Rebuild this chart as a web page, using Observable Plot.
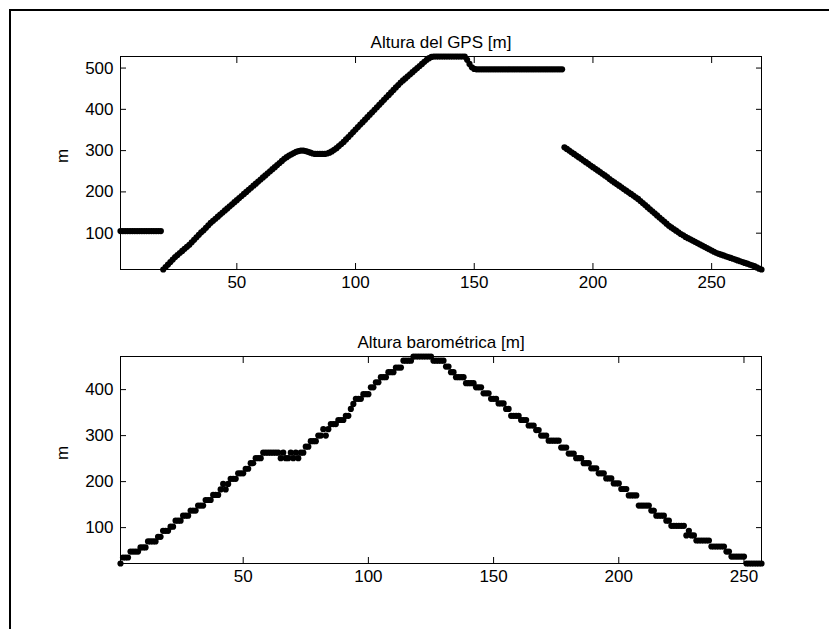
<!DOCTYPE html>
<html><head><meta charset="utf-8">
<script src="https://cdn.jsdelivr.net/npm/d3@7"></script>
<script src="https://cdn.jsdelivr.net/npm/@observablehq/plot@0.6"></script>
<style>
html,body{margin:0;padding:0;background:#fff;}
#wrap{position:relative;width:829px;height:629px;overflow:hidden;background:#fff;}
#border{position:absolute;left:9px;top:9px;width:900px;height:700px;border-left:2px solid #000;border-top:2px solid #000;}
.p{position:absolute;left:0;}
</style></head><body>
<div id="wrap"><div id="border"></div><div id="top" class="p" style="top:0"></div><div id="bot" class="p" style="top:300px"></div></div>
<script>
const gpsAltitude = [
105,105,105,105,105,105,105,105,105,105,
105,105,105,105,105,105,105,105,12,18,
24,30,36,42,47,52,57,62,67,72,
78,84,90,96,102,107,113,119,125,130,
135,140,145,150,155,160,165,170,175,180,
185,190,195,200,205,210,215,220,225,230,
235,240,245,250,255,260,265,270,275,280,
284,288,291,294,297,299,300,300,299,297,
295,293,292,292,292,292,292,293,295,298,
302,306,311,316,321,327,333,339,345,351,
357,363,369,375,381,387,393,399,405,411,
417,423,429,435,441,447,453,459,465,470,
475,480,485,490,495,500,505,510,515,520,
524,527,528,528,528,528,528,528,528,528,
528,528,528,528,528,528,520,510,502,498,
497,497,497,497,497,497,497,497,497,497,
497,497,497,497,497,497,497,497,497,497,
497,497,497,497,497,497,497,497,497,497,
497,497,497,497,497,497,497,
308,304,300,296,292,288,284,280,276,272,
268,264,260,256,252,248,244,240,236,231,
227,223,219,215,211,207,203,199,195,191,
187,183,178,173,168,163,158,153,148,143,
138,133,128,123,118,114,110,106,102,98,
95,91,88,85,82,79,76,73,70,67,
64,61,58,55,52,50,48,46,44,42,
40,38,36,34,32,30,28,26,24,22,
20,17,14,12
];
const baroAltitude = [
22,35,35,35,48,48,48,48,57,57,
57,70,70,70,70,80,80,93,93,93,
102,102,115,115,115,126,126,126,137,137,
137,148,148,148,160,160,160,171,171,171,
183,195,183,195,206,206,206,218,218,218,
228,228,240,240,251,251,251,263,263,263,
263,263,263,263,251,263,251,251,263,251,
263,251,263,263,276,276,288,288,288,300,
300,314,300,314,325,325,325,334,334,334,
343,343,358,369,380,380,380,390,390,390,
405,405,416,416,427,427,427,438,438,438,
448,448,448,463,463,463,463,472,472,472,
472,472,472,472,472,463,463,463,463,463,
450,450,438,438,427,427,427,427,414,414,
414,414,405,405,405,392,392,392,380,380,
380,370,370,370,358,358,343,343,343,343,
334,334,334,322,322,322,312,312,300,300,
300,289,289,289,289,289,274,274,274,261,
261,261,251,251,251,240,240,240,229,229,
229,218,218,218,207,207,207,196,196,196,
184,184,184,170,170,170,170,148,148,148,
148,148,137,137,126,126,126,126,115,115,
104,104,104,104,104,104,83,93,83,83,
72,72,72,72,72,72,59,59,59,59,
59,59,48,48,37,37,37,37,37,37,
22,22,22,22,22,22,22
];
const xTicks = [50, 100, 150, 200, 250];
const gpsYTicks = [100, 200, 300, 400, 500];
const baroYTicks = [100, 200, 300, 400];
const gpsTitle = "Altura del GPS [m]";
const baroTitle = "Altura barométrica [m]";
const yLabel = "m";

function panel(values, yTicks, title, marginBottom) {
  const data = values.map((v, i) => ({i: i + 1, v}));
  return Plot.plot({
    width: 829, height: 300,
    marginLeft: 120, marginRight: 68, marginTop: 56, marginBottom,
    style: {fontFamily: "'Liberation Sans', Arial, sans-serif", fontSize: "17px", background: "transparent", color: "#000"},
    x: {domain: [1, values.length]},
    y: {domain: d3.extent(values)},
    marks: [
      Plot.frame({stroke: "#000"}),
      Plot.axisX(xTicks, {anchor: "bottom", tickSize: -6, tickPadding: 12, label: null}),
      Plot.axisX(xTicks, {anchor: "top", tickSize: -6, tickFormat: () => "", label: null}),
      Plot.axisY(yTicks, {anchor: "left", tickSize: -6, tickPadding: 13, label: null}),
      Plot.axisY(yTicks, {anchor: "right", tickSize: -6, tickFormat: () => "", label: null}),
      Plot.dot(data, {x: "i", y: "v", r: 3.1, fill: "#000"}),
      Plot.text([title], {text: d => d, frameAnchor: "top", dy: -21}),
      Plot.text([yLabel], {text: d => d, frameAnchor: "left", dx: -58, rotate: -90})
    ]
  });
}
document.getElementById("top").appendChild(panel(gpsAltitude, gpsYTicks, gpsTitle, 31));
document.getElementById("bot").appendChild(panel(baroAltitude, baroYTicks, baroTitle, 37));
</script>
</body></html>
